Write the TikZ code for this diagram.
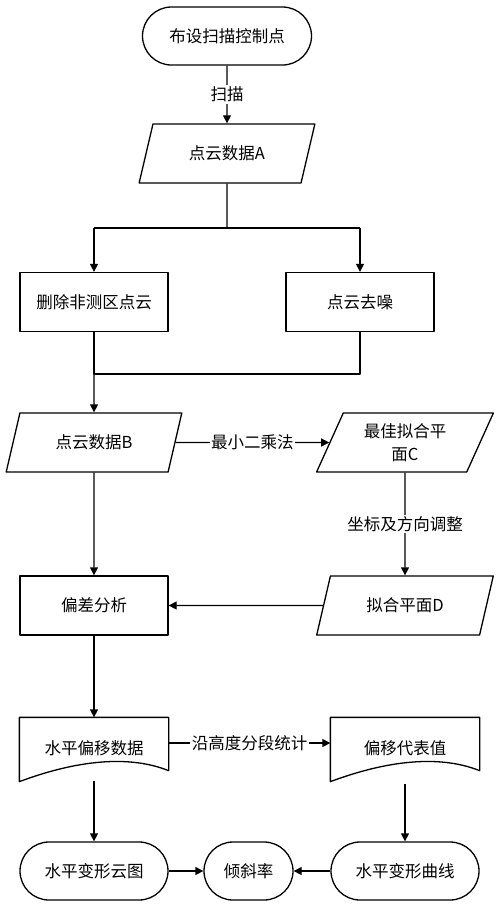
\documentclass[tikz,border=0pt]{standalone}
\usepackage{fontspec}
\newfontfamily\cjk{Noto Sans CJK SC}
\usetikzlibrary{shapes.geometric,arrows.meta}
\begin{document}
\begin{tikzpicture}[x=1pt, y=-1pt, font=\cjk\fontsize{16.5}{23}\selectfont, line join=round, line width=1.3pt,
	>={Triangle[length=8pt,width=8pt]},
	term/.style={draw, rounded corners=29pt, minimum width=148pt, minimum height=58pt, inner sep=0pt},
	box/.style={draw, minimum width=148pt, minimum height=59pt, inner sep=0pt},
	para/.style={draw, trapezium, trapezium left angle=65, trapezium right angle=115, trapezium stretches=true,
		minimum width=177pt, minimum height=59pt, inner sep=0pt, align=center},
	doc/.style={minimum width=148pt, minimum height=60pt, inner sep=0pt},
	lbl/.style={fill=white, inner sep=1.5pt}]
	\useasboundingbox (0,0) rectangle (500,908);
	% top
	\node[term, minimum width=169pt] (start) at (227,36) {布设扫描控制点};
	\node[para] (dataA) at (227,153.5) {点云数据A};
	\node[box] (del) at (94,302) {删除非测区点云};
	\node[box] (den) at (360,302) {点云去噪};
	% middle
	\node[para] (dataB) at (94,442.5) {点云数据B};
	\node[para] (planeC) at (405,442.5) {最佳拟合平\\面C};
	\node[box] (dev) at (94,605.5) {偏差分析};
	\node[para] (planeD) at (405,605.5) {拟合平面D};
	% bottom
	\node[doc] (offs) at (94,748) {水平偏移数据};
	\node[doc] (rep) at (405,748) {偏移代表值};
	\node[term] (cloud) at (94,871) {水平变形云图};
	\node[term, minimum width=89pt] (tilt) at (248.5,871) {倾斜率};
	\node[term] (curve) at (405,871) {水平变形曲线};
	% document outlines
	\foreach \d in {offs,rep}{
		\draw (\d.south west) -- (\d.north west) -- (\d.north east) -- ([yshift=8pt]\d.south east)
			.. controls +(-45,-18) and +(48,-18) .. ([yshift=-3pt]\d.south west) -- cycle;
	}
	\coordinate (split) at (227,228);
	\coordinate (join) at (94,374);
	\draw[->] (start) -- node[lbl]{扫描} (dataA);
	\draw (dataA) -- (split);
	\draw (del.north |- split) -- (den.north |- split);
	\draw[->] (del.north |- split) -- (del);
	\draw[->] (den.north |- split) -- (den);
	\draw (del) -- (join) -- (den.south |- join) -- (den);
	\draw[->] (join) -- (dataB.north);
	\draw[->] (dataB) -- node[lbl]{最小二乘法} (planeC);
	\draw[->] (planeC) -- node[lbl]{坐标及方向调整} (planeD);
	\draw[->] (planeD) -- (dev);
	\draw[->] (dataB) -- (dev);
	\draw[->] (dev) -- (offs.north);
	\draw[->] ([yshift=5pt]offs.east) -- node[lbl]{沿高度分段统计} ([yshift=5pt]rep.west);
	\draw[->] ([yshift=-2pt]offs.south) -- (cloud);
	\draw[->] ([yshift=-5pt]rep.south) -- (curve);
	\draw[->] (cloud) -- (tilt);
	\draw[->] (curve) -- (tilt);
\end{tikzpicture}
\end{document}
